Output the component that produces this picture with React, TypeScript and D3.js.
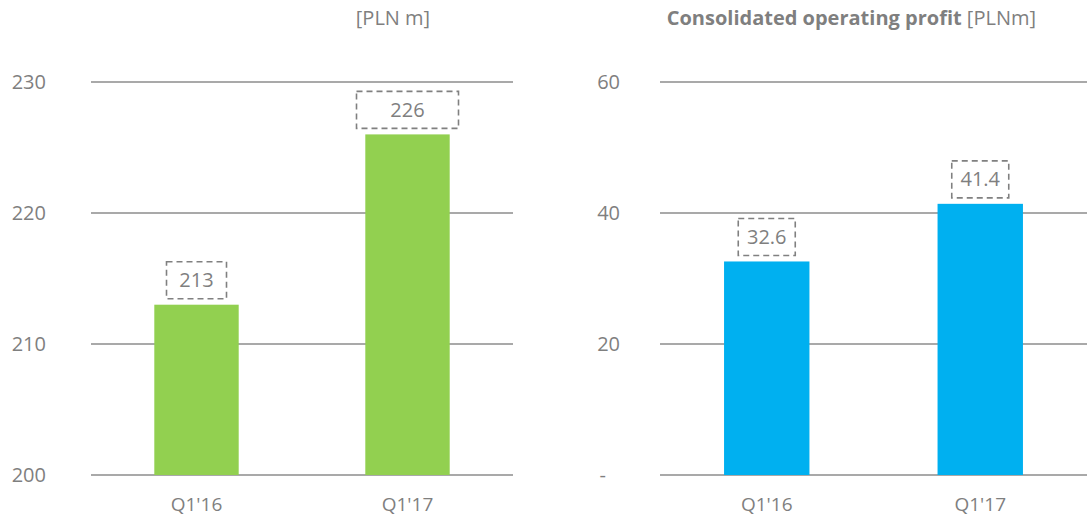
import React from "react";
import * as d3 from "d3";

const categories = ["Q1'16", "Q1'17"];
const revenueValues = [213, 226];
const profitValues = [32.6, 41.4];
const leftTicks = [200, 210, 220, 230];
const rightTicks = [0, 20, 40, 60];
const rightTickLabels = ["-", "20", "40", "60"];

const W = 1087;
const H = 517;
const FONT = "'Open Sans', sans-serif";
const GRAY = "#7f7f7f";
const GRID = "#8c8c8c";

type PanelProps = {
  x0: number;
  x1: number;
  domain: [number, number];
  ticks: number[];
  tickLabels: string[];
  tickRight: number;
  values: number[];
  fmt: (v: number) => string;
  color: string;
  boxWidths: number[];
};

function Panel(p: PanelProps) {
  const y = d3.scaleLinear().domain(p.domain).range([475, 82]);
  const x = d3.scaleBand().domain(categories).range([p.x0, p.x1]).paddingInner(0.6).paddingOuter(0.3);
  return (
    <g>
      {p.ticks.map((t, i) => (
        <g key={t}>
          <line x1={p.x0} x2={p.x1} y1={y(t)} y2={y(t)} stroke={GRID} strokeWidth={1.5} />
          <text
            x={p.tickRight}
            dx={p.tickLabels[i] === "-" ? -14 : 0}
            y={y(t)}
            dy="0.35em"
            textAnchor="end"
            fontSize={20}
            fill={GRAY}
            fontFamily={FONT}
          >
            {p.tickLabels[i]}
          </text>
        </g>
      ))}
      {categories.map((c, i) => {
        const bx = x(c)!;
        const bw = x.bandwidth();
        const top = y(p.values[i]);
        const cx = bx + bw / 2;
        const boxW = p.boxWidths[i];
        const boxH = 37;
        const boxBottom = top - 6;
        return (
          <g key={c}>
            <rect x={bx} y={top} width={bw} height={475 - top} fill={p.color} />
            <rect
              x={cx - boxW / 2}
              y={boxBottom - boxH}
              width={boxW}
              height={boxH}
              fill="none"
              stroke="#808080"
              strokeWidth={1.6}
              strokeDasharray="6 4"
            />
            <text x={cx} y={boxBottom - boxH / 2} dy="0.35em" textAnchor="middle" fontSize={20} fill={GRAY} fontFamily={FONT}>
              {p.fmt(p.values[i])}
            </text>
            <text x={cx} y={504} dy="0.35em" textAnchor="middle" fontSize={19} fill={GRAY} fontFamily={FONT}>
              {c}
            </text>
          </g>
        );
      })}
    </g>
  );
}

export default function App() {
  return (
    <svg width={W} height={H} style={{ position: "absolute", left: 0, top: 0, background: "#fff" }}>
      <rect width={W} height={H} fill="#fff" />
      <text x={393} y={25} textAnchor="middle" fontSize={20} fill={GRAY} fontFamily={FONT}>
        [PLN m]
      </text>
      <text x={1036} y={25} textAnchor="end" fontSize={20} fill={GRAY} fontFamily={FONT}>
        <tspan fontWeight="bold">Consolidated operating profit</tspan>
        <tspan> [PLNm]</tspan>
      </text>
      <Panel
        x0={91}
        x1={513}
        domain={[200, 230]}
        ticks={leftTicks}
        tickLabels={leftTicks.map(String)}
        tickRight={46}
        values={revenueValues}
        fmt={(v) => String(v)}
        color="#92D050"
        boxWidths={[60, 102]}
      />
      <Panel
        x0={660}
        x1={1087}
        domain={[0, 60]}
        ticks={rightTicks}
        tickLabels={rightTickLabels}
        tickRight={620}
        values={profitValues}
        fmt={(v) => v.toFixed(1)}
        color="#00B0F0"
        boxWidths={[57, 57]}
      />
    </svg>
  );
}
